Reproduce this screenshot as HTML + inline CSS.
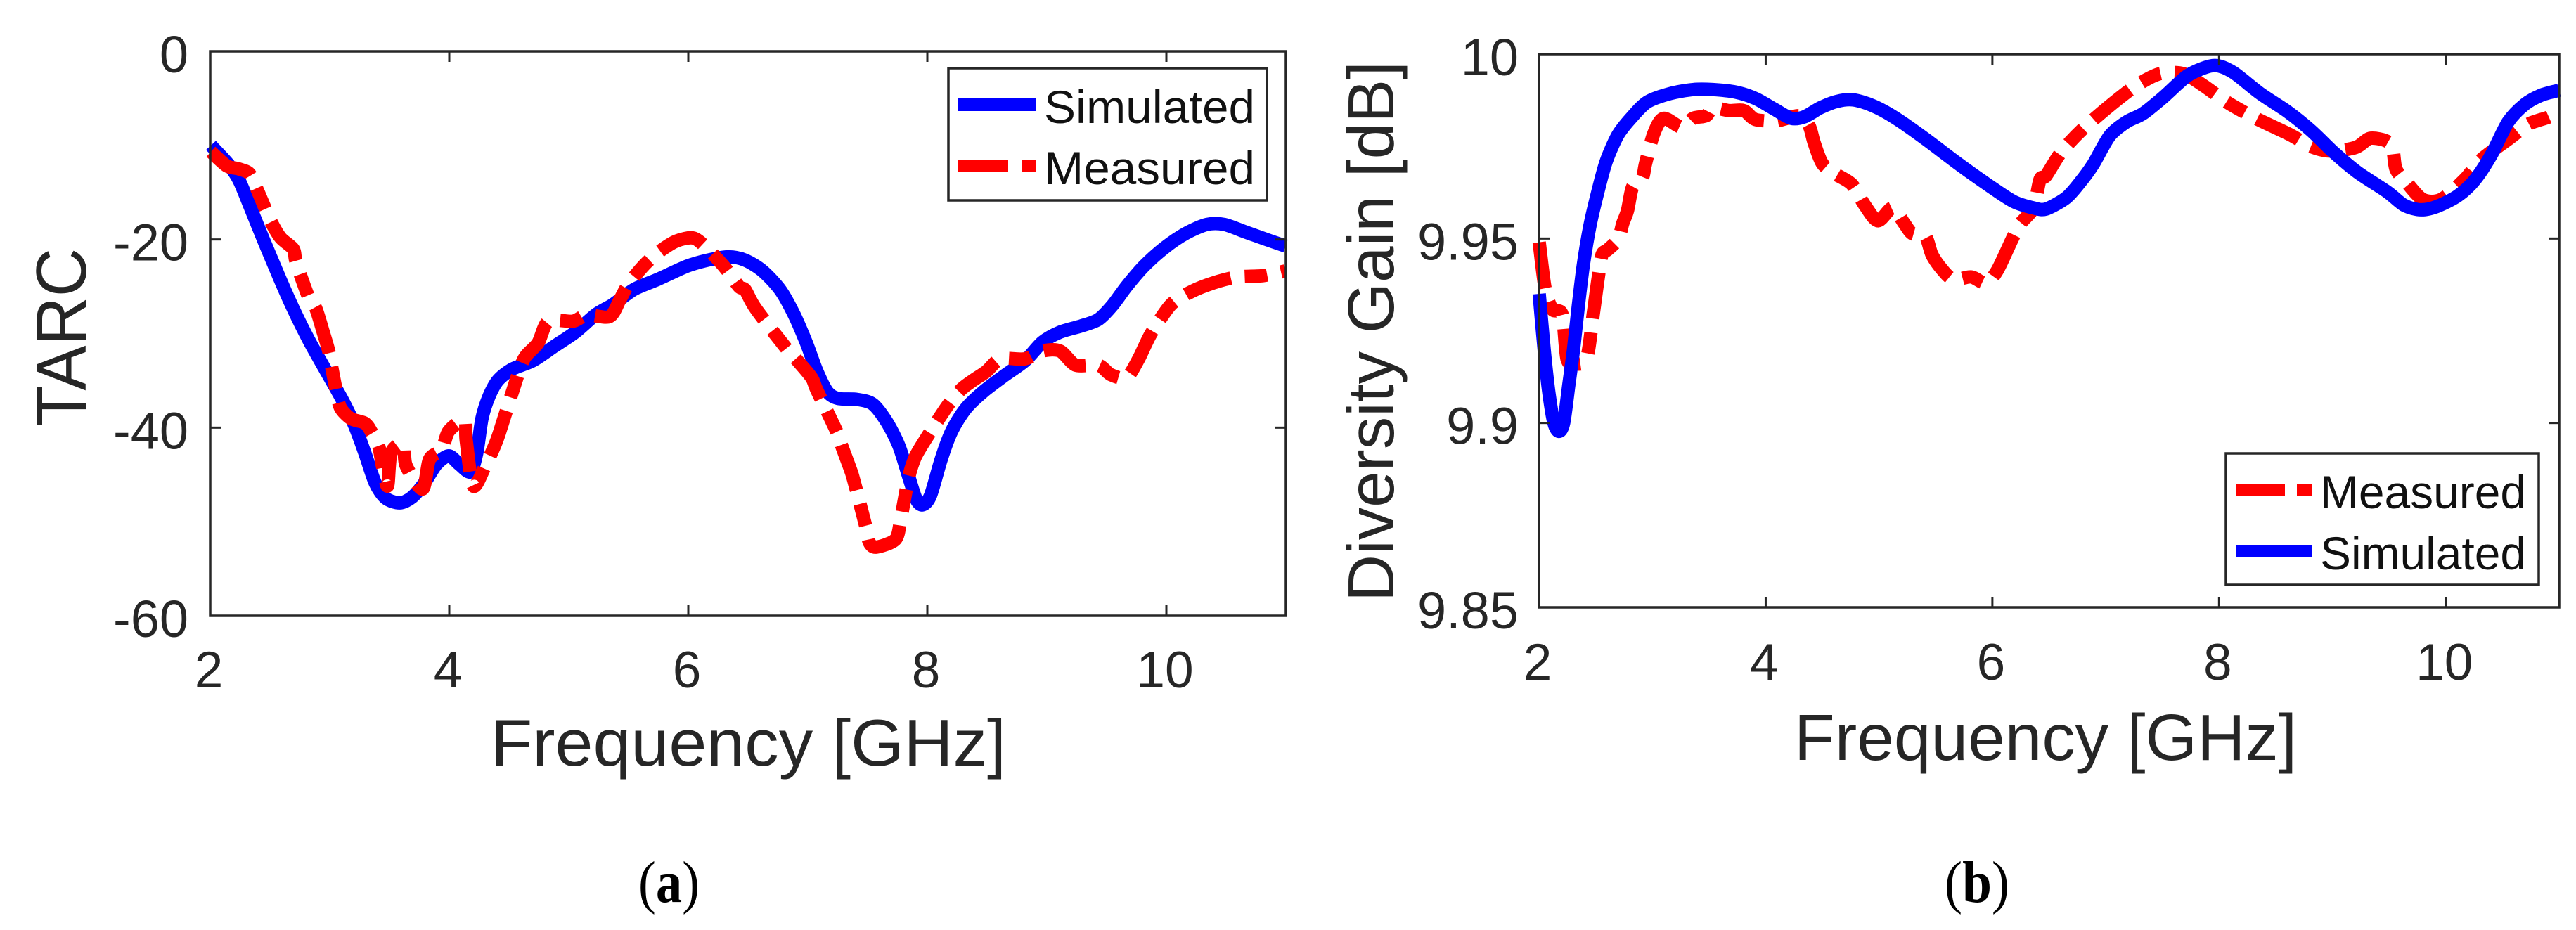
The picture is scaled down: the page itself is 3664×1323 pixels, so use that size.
<!DOCTYPE html>
<html lang="en">
<head>
<meta charset="utf-8">
<title>TARC and Diversity Gain</title>
<style>
html,body{margin:0;padding:0;background:#fff;}
svg{display:block;}
text{font-family:"Liberation Sans",Arial,sans-serif;fill:#262626;}
.cap{font-family:"Liberation Serif","Times New Roman",serif;fill:#000;}
</style>
</head>
<body>
<svg id="figure" xmlns="http://www.w3.org/2000/svg" width="3664" height="1323" viewBox="0 0 3664 1323">
  <rect x="0" y="0" width="3664" height="1323" fill="#ffffff"/>
  <g id="panel-a"></g>
  <g id="panel-b"></g>
  <text transform="translate(122,480)rotate(-90)" font-size="101" text-anchor="middle" textLength="254" lengthAdjust="spacingAndGlyphs">TARC</text>
  <text x="698" y="1089" font-size="94" textLength="733" lengthAdjust="spacingAndGlyphs">Frequency [GHz]</text>
  <text transform="translate(1982,856) rotate(-90)" font-size="93" textLength="769" lengthAdjust="spacingAndGlyphs">Diversity Gain [dB]</text>
  <text x="2552" y="1081" font-size="93" textLength="715" lengthAdjust="spacingAndGlyphs">Frequency [GHz]</text>
  <text class="cap" x="908" y="1283" font-size="84" textLength="87" lengthAdjust="spacingAndGlyphs">(<tspan font-weight="bold">a</tspan>)</text>
  <text class="cap" x="2766" y="1283" font-size="84" textLength="92" lengthAdjust="spacingAndGlyphs">(<tspan font-weight="bold">b</tspan>)</text>
</svg>
<script>
// ---- chart data ----
const xTicks = [2, 4, 6, 8, 10];
const tarcTicks = [0, -20, -40, -60];
const gainTicks = [10, 9.95, 9.9, 9.85];
const gainTickLabels = ['10', '9.95', '9.9', '9.85'];

const tarcSimFreq = [2.006,2.152,2.24,2.328,2.445,2.577,2.694,2.825,2.957,3.103,3.206,3.294,3.381,3.469,3.586,3.689,3.791,3.893,3.996,4.084,4.177,4.23,4.274,4.332,4.406,4.523,4.698,4.874,5.05,5.225,5.371,5.547,5.752,5.986,6.162,6.337,6.476,6.622,6.769,6.886,6.988,7.076,7.164,7.252,7.413,7.544,7.661,7.764,7.851,7.91,7.963,8.027,8.115,8.203,8.32,8.466,8.642,8.817,8.964,9.11,9.285,9.432,9.549,9.666,9.812,9.988,10.163,10.339,10.485,10.661,10.837,10.997];
const tarcSimValues = [-10,-12,-13.67,-16.34,-20,-24,-27.35,-30.7,-33.7,-37,-39.7,-42.7,-45.9,-47.5,-48,-47.4,-45.9,-43.9,-43,-43.9,-44.7,-42.7,-39,-36.7,-35,-33.8,-32.9,-31.4,-29.9,-28,-26.9,-25.3,-24.2,-22.85,-22.2,-21.85,-22.2,-23.35,-25.35,-28,-31,-34,-36.2,-36.9,-37,-37.5,-39.4,-42,-45.5,-47.7,-48.2,-47.2,-43.4,-40.4,-38,-36.2,-34.5,-32.9,-30.9,-29.85,-29.2,-28.5,-27,-25,-22.85,-20.85,-19.35,-18.4,-18.4,-19.2,-20,-20.7];

const tarcMeasFreq = [2.006,2.138,2.24,2.328,2.386,2.459,2.518,2.591,2.694,2.714,2.752,2.825,2.884,2.942,2.995,3.016,3.054,3.089,3.176,3.294,3.352,3.411,3.44,3.484,3.513,3.615,3.639,3.776,3.835,3.937,3.996,4.128,4.142,4.201,4.303,4.376,4.42,4.537,4.625,4.742,4.83,5.035,5.152,5.342,5.43,5.503,5.635,5.752,5.898,6.044,6.162,6.308,6.425,6.476,6.564,6.827,6.9,7.032,7.076,7.252,7.281,7.354,7.383,7.486,7.515,7.574,7.734,7.778,7.837,7.881,7.939,8.159,8.276,8.378,8.495,8.612,8.817,8.964,9.11,9.242,9.432,9.534,9.666,9.768,9.871,10.032,10.163,10.339,10.573,10.807,10.997];
const tarcMeasValues = [-10.67,-12.17,-12.5,-13,-14.5,-16.68,-18.34,-19.85,-21,-22.18,-23.68,-26.18,-27.35,-29.69,-32.02,-33.52,-36.02,-37.86,-39.03,-39.53,-40.53,-42.03,-44.03,-46.2,-42.7,-41.7,-44.03,-46.53,-43.36,-42.36,-40.36,-39.2,-41.36,-46.2,-44.03,-42.03,-40.53,-35.86,-32.69,-31.02,-28.69,-28.69,-28.02,-28.19,-26.35,-24.68,-22.68,-21.35,-20.18,-19.85,-21.01,-23.01,-25.02,-25.35,-27.35,-31.69,-32.69,-34.69,-36.02,-40.7,-41.86,-44.37,-45.53,-50.54,-52.2,-52.7,-51.87,-49.7,-45.7,-43.7,-42.2,-37.86,-36.02,-35.02,-34.02,-32.69,-32.69,-31.85,-31.85,-33.36,-33.36,-34.36,-34.69,-32.69,-30.02,-27.02,-25.85,-24.85,-24.02,-23.85,-23.35];

const gainSimFreq = [2.002,2.045,2.088,2.132,2.175,2.218,2.262,2.305,2.348,2.392,2.449,2.522,2.594,2.695,2.81,2.955,3.157,3.359,3.532,3.734,3.908,4.081,4.225,4.341,4.485,4.63,4.774,4.947,5.149,5.409,5.698,5.987,6.189,6.362,6.473,6.65,6.768,6.887,7.034,7.182,7.33,7.507,7.714,7.861,7.98,8.127,8.364,8.6,8.807,9.014,9.22,9.486,9.634,9.782,9.93,10.107,10.254,10.402,10.55,10.698,10.845,11];
const gainSimValues = [9.935,9.92,9.908,9.9,9.8977,9.9,9.91,9.92,9.932,9.943,9.9534,9.963,9.971,9.978,9.9826,9.987,9.9893,9.9904,9.9904,9.9897,9.988,9.985,9.9826,9.983,9.9855,9.9872,9.9876,9.986,9.9826,9.977,9.9703,9.964,9.96,9.9583,9.958,9.961,9.965,9.97,9.9778,9.9816,9.9839,9.9883,9.994,9.9962,9.9969,9.995,9.9893,9.9845,9.9794,9.9733,9.968,9.9626,9.959,9.9578,9.9588,9.9616,9.9658,9.9727,9.9816,9.9864,9.9889,9.9902];

const gainMeasFreq = [2.002,2.054,2.117,2.204,2.247,2.319,2.42,2.478,2.522,2.556,2.608,2.7,2.738,2.781,2.825,2.911,2.94,3.012,3.099,3.258,3.359,3.475,3.532,3.677,3.807,3.908,4.095,4.297,4.384,4.427,4.5,4.615,4.76,4.875,4.99,5.12,5.222,5.294,5.409,5.467,5.554,5.655,5.813,5.943,6.044,6.174,6.246,6.362,6.42,6.473,6.606,6.798,7.064,7.271,7.477,7.684,7.861,8.068,8.305,8.63,8.807,8.984,9.206,9.339,9.516,9.56,9.649,9.797,9.959,10.166,10.313,10.564,10.727,10.904,11];
const gainMeasValues = [9.949,9.9365,9.9308,9.9294,9.9174,9.916,9.9174,9.9294,9.9393,9.9456,9.947,9.9499,9.954,9.9576,9.9639,9.9664,9.9703,9.9784,9.9826,9.9802,9.9826,9.9833,9.9854,9.9847,9.9847,9.9823,9.9819,9.9833,9.9805,9.976,9.9703,9.9675,9.9647,9.959,9.9548,9.9583,9.9541,9.9513,9.9506,9.9456,9.9417,9.9389,9.9396,9.9379,9.9414,9.9498,9.954,9.9583,9.966,9.967,9.9734,9.9797,9.9867,9.9915,9.9947,9.9947,9.9915,9.987,9.9829,9.9781,9.975,9.9737,9.9747,9.9772,9.9756,9.9689,9.9654,9.9606,9.9606,9.966,9.9714,9.9772,9.981,9.9829,9.9845];

// ---- drawing ----
const NS = 'http://www.w3.org/2000/svg';
const INK = '#262626';

function el(parent, tag, attrs) {
  const node = document.createElementNS(NS, tag);
  for (const key in attrs) node.setAttribute(key, attrs[key]);
  parent.appendChild(node);
  return node;
}

function linearScale(d0, d1, r0, r1) {
  return v => r0 + (v - d0) * (r1 - r0) / (d1 - d0);
}

function smoothPath(xs, ys) {
  let d = 'M' + xs[0].toFixed(1) + ' ' + ys[0].toFixed(1);
  const k = 0.14;
  for (let i = 0; i < xs.length - 1; i++) {
    const a = Math.max(i - 1, 0), b = Math.min(i + 2, xs.length - 1);
    const c1x = xs[i] + (xs[i + 1] - xs[a]) * k;
    const c1y = ys[i] + (ys[i + 1] - ys[a]) * k;
    const c2x = xs[i + 1] - (xs[b] - xs[i]) * k;
    const c2y = ys[i + 1] - (ys[b] - ys[i]) * k;
    d += 'C' + c1x.toFixed(1) + ' ' + c1y.toFixed(1) + ' ' + c2x.toFixed(1) + ' ' + c2y.toFixed(1) + ' ' + xs[i + 1].toFixed(1) + ' ' + ys[i + 1].toFixed(1);
  }
  return d;
}

function drawCurve(group, freq, values, xAxis, yAxis, color, dash, name) {
  const path = el(group, 'path', {
    d: smoothPath(freq.map(xAxis), values.map(yAxis)),
    fill: 'none', stroke: color, 'stroke-width': 19,
    'stroke-linejoin': 'round', 'stroke-linecap': 'butt'
  });
  if (dash) path.setAttribute('stroke-dasharray', dash);
  
  
}

function drawFrame(group, box, xAxis, yAxis, yTicks, yLabels, xLabelY, yLabelX) {
  const frame = el(group, 'rect', {
    x: box.left, y: box.top, width: box.right - box.left, height: box.bottom - box.top,
    fill: 'none', stroke: INK, 'stroke-width': 3.5
  });
  
  

  xTicks.forEach(t => {
    const x = xAxis(t);
    if (t !== xTicks[0]) {
      const bottomTick = el(group, 'line', { x1: x, x2: x, y1: box.bottom, y2: box.bottom - 15, stroke: INK, 'stroke-width': 3 });
      
      
      const topTick = el(group, 'line', { x1: x, x2: x, y1: box.top, y2: box.top + 15, stroke: INK, 'stroke-width': 3 });
      
      
    }
    const label = el(group, 'text', { x: x - 2, y: xLabelY, 'font-size': 73, 'text-anchor': 'middle' });
    label.textContent = String(t);
    
    
  });

  yTicks.forEach((t, i) => {
    const y = yAxis(t);
    if (i !== 0 && i !== yTicks.length - 1) {
      const leftTick = el(group, 'line', { x1: box.left, x2: box.left + 15, y1: y, y2: y, stroke: INK, 'stroke-width': 3 });
      
      
      const rightTick = el(group, 'line', { x1: box.right, x2: box.right - 15, y1: y, y2: y, stroke: INK, 'stroke-width': 3 });
      
      
    }
    const label = el(group, 'text', { x: yLabelX, y: y + 30, 'font-size': 74, 'text-anchor': 'end' });
    label.textContent = yLabels[i];
    
    
  });
}

function drawLegend(group, spec) {
  const legend = el(group, 'g', {});
  
  
  const box = el(legend, 'rect', {
    x: spec.left, y: spec.top, width: spec.right - spec.left, height: spec.bottom - spec.top,
    fill: '#fff', stroke: INK, 'stroke-width': 3.5
  });
  
  
  spec.entries.forEach(entry => {
    const sample = el(legend, 'line', {
      x1: spec.lineStart, x2: spec.lineEnd, y1: entry.y, y2: entry.y,
      stroke: entry.color, 'stroke-width': 18
    });
    if (entry.dash) sample.setAttribute('stroke-dasharray', entry.dash);
    
    
    const label = el(legend, 'text', {
      x: spec.textStart, y: entry.y + 26, 'font-size': 66,
      textLength: spec.textEnd - spec.textStart, lengthAdjust: 'spacingAndGlyphs'
    });
    label.style.fill = '#111';
    label.textContent = entry.label;
    
    
  });
}

// Panel (a): TARC
(function () {
  const group = document.getElementById('panel-a');
  const box = { left: 299, right: 1829, top: 73, bottom: 876 };
  const xAxis = linearScale(2, 11, box.left, box.right);
  const yAxis = linearScale(0, -60, box.top, box.bottom);
  drawCurve(group, tarcSimFreq, tarcSimValues, xAxis, yAxis, '#0000ff', null, 'tarc-simulated-line');
  drawCurve(group, tarcMeasFreq, tarcMeasValues, xAxis, yAxis, '#ff0000', '68 20 32 20', 'tarc-measured-line');
  drawFrame(group, box, xAxis, yAxis, tarcTicks, tarcTicks.map(String), 978, 268);
  drawLegend(group, {
    left: 1349, right: 1802, top: 97, bottom: 285,
    lineStart: 1363, lineEnd: 1473, textStart: 1485, textEnd: 1785,
    entries: [
      { y: 149, color: '#0000ff', label: 'Simulated' },
      { y: 236, color: '#ff0000', dash: '71 19 20 19', label: 'Measured' }
    ]
  });
})();

// Panel (b): Diversity Gain
(function () {
  const group = document.getElementById('panel-b');
  const box = { left: 2189, right: 3640, top: 77, bottom: 864 };
  const xAxis = linearScale(2, 11, box.left, box.right);
  const yAxis = linearScale(10, 9.85, box.top, box.bottom);
  drawCurve(group, gainMeasFreq, gainMeasValues, xAxis, yAxis, '#ff0000', '66 20 30 20', 'gain-measured-line');
  drawCurve(group, gainSimFreq, gainSimValues, xAxis, yAxis, '#0000ff', null, 'gain-simulated-line');
  drawFrame(group, box, xAxis, yAxis, gainTicks, gainTickLabels, 967, 2160);
  drawLegend(group, {
    left: 3166, right: 3611, top: 645, bottom: 832,
    lineStart: 3180, lineEnd: 3289, textStart: 3300, textEnd: 3593,
    entries: [
      { y: 697, color: '#ff0000', dash: '70 17 22 17', label: 'Measured' },
      { y: 784, color: '#0000ff', label: 'Simulated' }
    ]
  });
})();
</script>
</body>
</html>
